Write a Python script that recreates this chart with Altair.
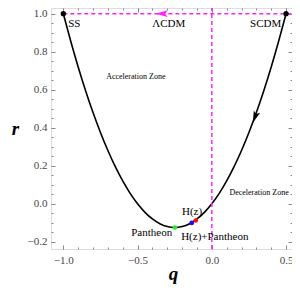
import altair as alt
import pandas as pd

# curve r(q)
q_curve = [-1.00, -0.95, -0.90, -0.85, -0.80, -0.75, -0.70, -0.65, -0.60, -0.55,
           -0.50, -0.45, -0.40, -0.35, -0.30, -0.25, -0.20, -0.15, -0.10, -0.05,
           0.00, 0.05, 0.10, 0.15, 0.20, 0.25, 0.30, 0.35, 0.40, 0.45, 0.50]
r_curve = [1.000, 0.855, 0.720, 0.595, 0.480, 0.375, 0.280, 0.195, 0.120, 0.055,
           0.000, -0.045, -0.080, -0.105, -0.120, -0.125, -0.120, -0.105, -0.080, -0.045,
           0.000, 0.055, 0.120, 0.195, 0.280, 0.375, 0.480, 0.595, 0.720, 0.855, 1.000]

# fixed points
fixed_names = ["SS", "SCDM"]
fixed_q = [-1.0, 0.5]
fixed_r = [1.0, 1.0]

# observational points
obs_names = ["Pantheon", "H(z)+Pantheon", "H(z)"]
obs_q = [-0.248, -0.135, -0.108]
obs_r = [-0.125, -0.101, -0.088]

# arrows
arrow_q = [0.29]
arrow_r = [0.455]
lcdm_arrow_q = [-0.338]
lcdm_arrow_r = [1.0]

# labels
label_text = ["SS", "ΛCDM", "SCDM", "Pantheon", "H(z)", "H(z)+Pantheon"]
label_q = [-0.926, -0.29, 0.363, -0.405, -0.133, 0.02]
label_r = [0.948, 0.948, 0.948, -0.156, -0.042, -0.177]
zone_text = ["Acceleration Zone", "Deceleration Zone"]
zone_q = [-0.512, 0.318]
zone_r = [0.667, 0.055]

x_major = [-1.0, -0.5, 0.0, 0.5]
x_minor = [-1.0, -0.9, -0.8, -0.7, -0.6, -0.5, -0.4, -0.3, -0.2, -0.1, 0.0, 0.1, 0.2, 0.3, 0.4, 0.5]
y_major = [-0.2, 0.0, 0.2, 0.4, 0.6, 0.8, 1.0]
y_minor = [-0.2, -0.15, -0.1, -0.05, 0.0, 0.05, 0.1, 0.15, 0.2, 0.25, 0.3, 0.35, 0.4, 0.45,
           0.5, 0.55, 0.6, 0.65, 0.7, 0.75, 0.8, 0.85, 0.9, 0.95, 1.0]

X_DOMAIN = [-1.083, 0.540]
Y_DOMAIN = [-0.238, 1.030]
W, H = 241, 241
FONT = "Liberation Serif"
TICK_COLOR = "#888888"
MAGENTA = "#ff22ff"

xs = alt.Scale(domain=X_DOMAIN, nice=False, zero=False)
ys = alt.Scale(domain=Y_DOMAIN, nice=False, zero=False)


def tick_axis(orient, values, size, offset):
    return alt.Axis(orient=orient, values=values, tickSize=size, offset=offset,
                    labels=False, domain=False, grid=False, title=None,
                    tickColor=TICK_COLOR, tickWidth=1)


curve_df = pd.DataFrame({"q": q_curve, "r": r_curve})
fixed_df = pd.DataFrame({"name": fixed_names, "q": fixed_q, "r": fixed_r})
obs_df = pd.DataFrame({"name": obs_names, "q": obs_q, "r": obs_r})
arrow_df = pd.DataFrame({"q": arrow_q, "r": arrow_r})
lcdm_df = pd.DataFrame({"q": lcdm_arrow_q, "r": lcdm_arrow_r})
label_df = pd.DataFrame({"t": label_text, "q": label_q, "r": label_r})
zone_df = pd.DataFrame({"t": zone_text, "q": zone_q, "r": zone_r})
hline_df = pd.DataFrame({"q": [fixed_q[0]], "q2": [X_DOMAIN[1]], "r": [1.0]})
vline_df = pd.DataFrame({"q": [0.0], "r": [Y_DOMAIN[0]], "r2": [Y_DOMAIN[1]]})

curve = alt.Chart(curve_df).mark_line(color="black", strokeWidth=1.6, interpolate="monotone").encode(
    x=alt.X("q:Q", scale=xs, axis=alt.Axis(
        orient="bottom", values=x_major, format=".1f", tickSize=0, labelPadding=5,
        domain=False, grid=False, labelFont=FONT, labelFontSize=11, labelColor="#444444",
        title="q", titleFont=FONT, titleFontSize=19, titleFontStyle="italic", titleFontWeight="bold",
        titleX=122, titleY=34, titleAlign="center", titleBaseline="bottom", titleColor="black")),
    y=alt.Y("r:Q", scale=ys, axis=alt.Axis(
        orient="left", values=y_major, format=".1f", tickSize=0, labelPadding=4,
        domain=False, grid=False, labelFont=FONT, labelFontSize=11, labelColor="#444444",
        title="r", titleFont=FONT, titleFontSize=19, titleFontStyle="italic", titleFontWeight="bold",
        titleAngle=0, titleX=-36, titleY=120, titleAlign="center", titleBaseline="middle",
        titleColor="black")),
    order="q:Q",
)

hline = alt.Chart(hline_df).mark_rule(color=MAGENTA, strokeWidth=1.5, strokeDash=[4, 3]).encode(
    x=alt.X("q:Q", scale=xs, axis=tick_axis("top", x_major, 4, -H)),
    x2="q2:Q",
    y=alt.Y("r:Q", scale=ys, axis=tick_axis("right", y_major, 4, -W)),
)

vline = alt.Chart(vline_df).mark_rule(color=MAGENTA, strokeWidth=1.5, strokeDash=[4, 3]).encode(
    x=alt.X("q:Q", scale=xs, axis=tick_axis("top", x_minor, 2, -H)),
    y=alt.Y("r:Q", scale=ys, axis=tick_axis("right", y_minor, 2, -W)),
    y2="r2:Q",
)

fixed_pts = alt.Chart(fixed_df).mark_point(filled=True, color="black", size=28, opacity=1).encode(
    x=alt.X("q:Q", scale=xs, axis=tick_axis("bottom", x_major, 4, -H)),
    y=alt.Y("r:Q", scale=ys, axis=tick_axis("left", y_major, 4, -W)),
)

obs_pts = alt.Chart(obs_df).mark_point(filled=True, opacity=1).encode(
    x=alt.X("q:Q", scale=xs, axis=tick_axis("bottom", x_minor, 2, -H)),
    y=alt.Y("r:Q", scale=ys, axis=tick_axis("left", y_minor, 2, -W)),
    color=alt.Color("name:N", legend=None, scale=alt.Scale(
        domain=obs_names, range=["#22ee22", "#1010ff", "#ff1010"])),
    size=alt.Size("name:N", legend=None, scale=alt.Scale(
        domain=obs_names, range=[22, 22, 40])),
)

ARROW = "M0,1 L-0.55,-1 L0,-0.55 L0.55,-1 Z"

arrow = alt.Chart(arrow_df).mark_point(
    shape=ARROW, filled=True, color="black", size=150, angle=20, opacity=1
).encode(x=alt.X("q:Q", scale=xs, axis=None), y=alt.Y("r:Q", scale=ys, axis=None))

lcdm_arrow = alt.Chart(lcdm_df).mark_point(
    shape=ARROW, filled=True, color=MAGENTA, size=150, angle=90, opacity=1
).encode(x=alt.X("q:Q", scale=xs, axis=None), y=alt.Y("r:Q", scale=ys, axis=None))

labels = alt.Chart(label_df).mark_text(font=FONT, fontSize=11, color="black").encode(
    x=alt.X("q:Q", scale=xs, axis=None), y=alt.Y("r:Q", scale=ys, axis=None), text="t:N")

zones = alt.Chart(zone_df).mark_text(font=FONT, fontSize=8, color="black").encode(
    x=alt.X("q:Q", scale=xs, axis=None), y=alt.Y("r:Q", scale=ys, axis=None), text="t:N")

chart = alt.layer(
    curve, hline, vline, fixed_pts, obs_pts, arrow, lcdm_arrow, labels, zones
).resolve_axis(x="independent", y="independent").properties(
    width=W, height=H,
    autosize=alt.AutoSizeParams(type="none"),
    padding={"left": 43, "top": 0, "right": 0, "bottom": 35},
).configure_view(stroke="#999999", strokeWidth=1).configure(background="white")

chart.save("out.html", embed_options={"renderer": "svg", "actions": False})
